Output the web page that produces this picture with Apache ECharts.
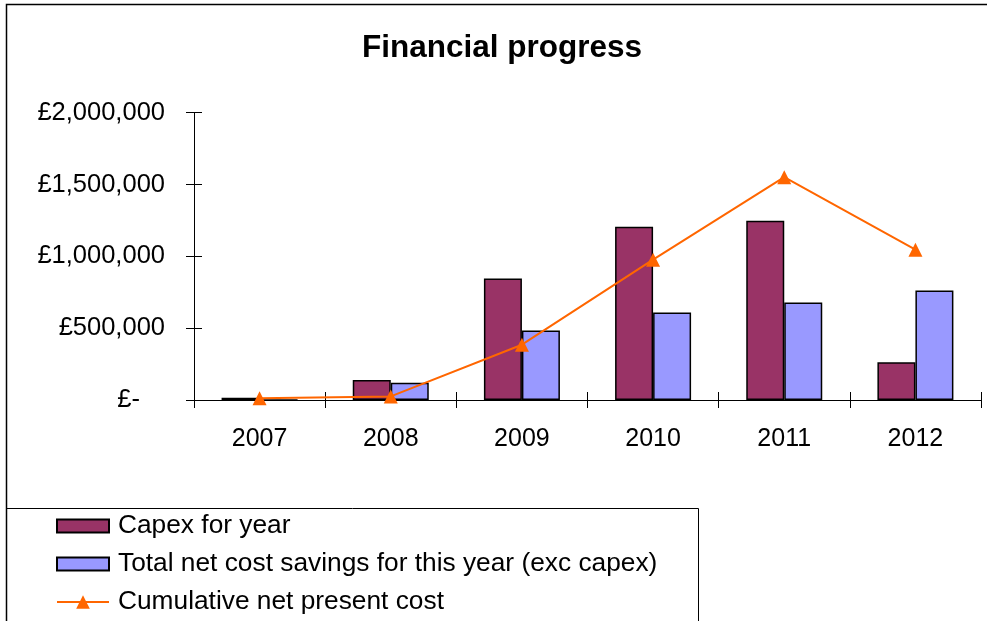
<!DOCTYPE html>
<html>
<head>
<meta charset="utf-8">
<script src="https://cdn.jsdelivr.net/npm/echarts@6/dist/echarts.min.js"></script>
<style>
html,body{margin:0;padding:0;background:#fff;}
#c{width:987px;height:621px;}
</style>
</head>
<body>
<div id="c"></div>
<script>
var years = ['2007', '2008', '2009', '2010', '2011', '2012'];
var capex = [15000, 139000, 845000, 1206000, 1248000, 262000];
var savings = [0, 120000, 484000, 609000, 678000, 762000];
var cumulative = [12000, 25000, 385000, 977000, 1551000, 1046000];
var seriesNames = ['Capex for year', 'Total net cost savings for this year (exc capex)', 'Cumulative net present cost'];
var titleText = 'Financial progress';

var FONT = '"Liberation Sans", Arial, sans-serif';
var chart = echarts.init(document.getElementById('c'), null, {renderer: 'canvas'});

function fmt(v) {
  if (v === 0) return '{z|£-}';
  return '£' + v.toLocaleString('en-GB');
}

var barIcon = 'path://M0,0 M0,17 M0,2 L52,2 L52,15 L0,15 Z';

var option = {
  backgroundColor: '#fff',
  animation: false,
  title: {
    text: titleText,
    left: 362,
    top: 32,
    padding: 0,
    textStyle: {fontFamily: FONT, fontWeight: 'bold', fontSize: 31.5, color: '#000'}
  },
  graphic: [
    {type: 'rect', shape: {x: 6.5, y: 4.5, width: 1200, height: 900}, style: {fill: null, stroke: '#000', lineWidth: 1.5}, z: 100, silent: true},
    {type: 'rect', shape: {x: 6.5, y: 508.5, width: 692, height: 300}, style: {fill: null, stroke: '#000', lineWidth: 1}, z: 100, silent: true}
  ],
  legend: {
    orient: 'vertical',
    left: 56,
    top: 513,
    padding: 0,
    itemWidth: 52,
    itemHeight: 17,
    itemGap: 12,
    data: [
      {name: seriesNames[0], icon: barIcon},
      {name: seriesNames[1], icon: barIcon},
      {name: seriesNames[2]}
    ],
    textStyle: {fontFamily: FONT, fontSize: 26.3, color: '#000', lineHeight: 25, padding: [0, 0, 0, 4]}
  },
  grid: {left: 194, right: 6, top: 112.7, bottom: 221, containLabel: false},
  xAxis: [
    {
      type: 'category', data: years, position: 'bottom',
      axisLine: {lineStyle: {color: '#000', width: 1}},
      axisTick: {show: true, length: 8, inside: false, lineStyle: {color: '#000'}},
      axisLabel: {fontFamily: FONT, fontSize: 25, color: '#000', margin: 27},
      splitLine: {show: false}
    },
    {
      type: 'category', data: years, position: 'bottom', offset: 0,
      axisLine: {show: false},
      axisTick: {show: true, length: 8, inside: true, lineStyle: {color: '#000'}},
      axisLabel: {show: false},
      splitLine: {show: false}
    }
  ],
  yAxis: [
    {
      type: 'value', min: 0, max: 2000000, interval: 500000,
      axisLine: {show: true, lineStyle: {color: '#000', width: 1}},
      axisTick: {show: true, length: 8, inside: false, lineStyle: {color: '#000'}},
      axisLabel: {fontFamily: FONT, fontSize: 25.5, color: '#000', margin: 29, formatter: fmt,
        rich: {z: {fontFamily: FONT, fontSize: 25.5, color: '#000', padding: [0, 25, 0, 0]}}},
      splitLine: {show: false}
    },
    {
      type: 'value', min: 0, max: 2000000, interval: 500000, position: 'left', offset: 0,
      axisLine: {show: false},
      axisTick: {show: true, length: 8, inside: true, lineStyle: {color: '#000'}},
      axisLabel: {show: false},
      splitLine: {show: false}
    }
  ],
  series: [
    {
      name: seriesNames[0], type: 'bar', data: capex, barWidth: 38, barGap: '0%',
      itemStyle: {color: '#993366', borderColor: '#000', borderWidth: 1.5}
    },
    {
      name: seriesNames[1], type: 'bar', data: savings, barWidth: 38, barGap: '0%',
      itemStyle: {color: '#9999FF', borderColor: '#000', borderWidth: 1.5}
    },
    {
      name: seriesNames[2], type: 'line', data: cumulative,
      symbol: 'triangle', symbolSize: 14, showSymbol: true,
      lineStyle: {color: '#FF6600', width: 2},
      itemStyle: {color: '#FF6600'},
      z: 5
    }
  ]
};
chart.setOption(option);
</script>
</body>
</html>
